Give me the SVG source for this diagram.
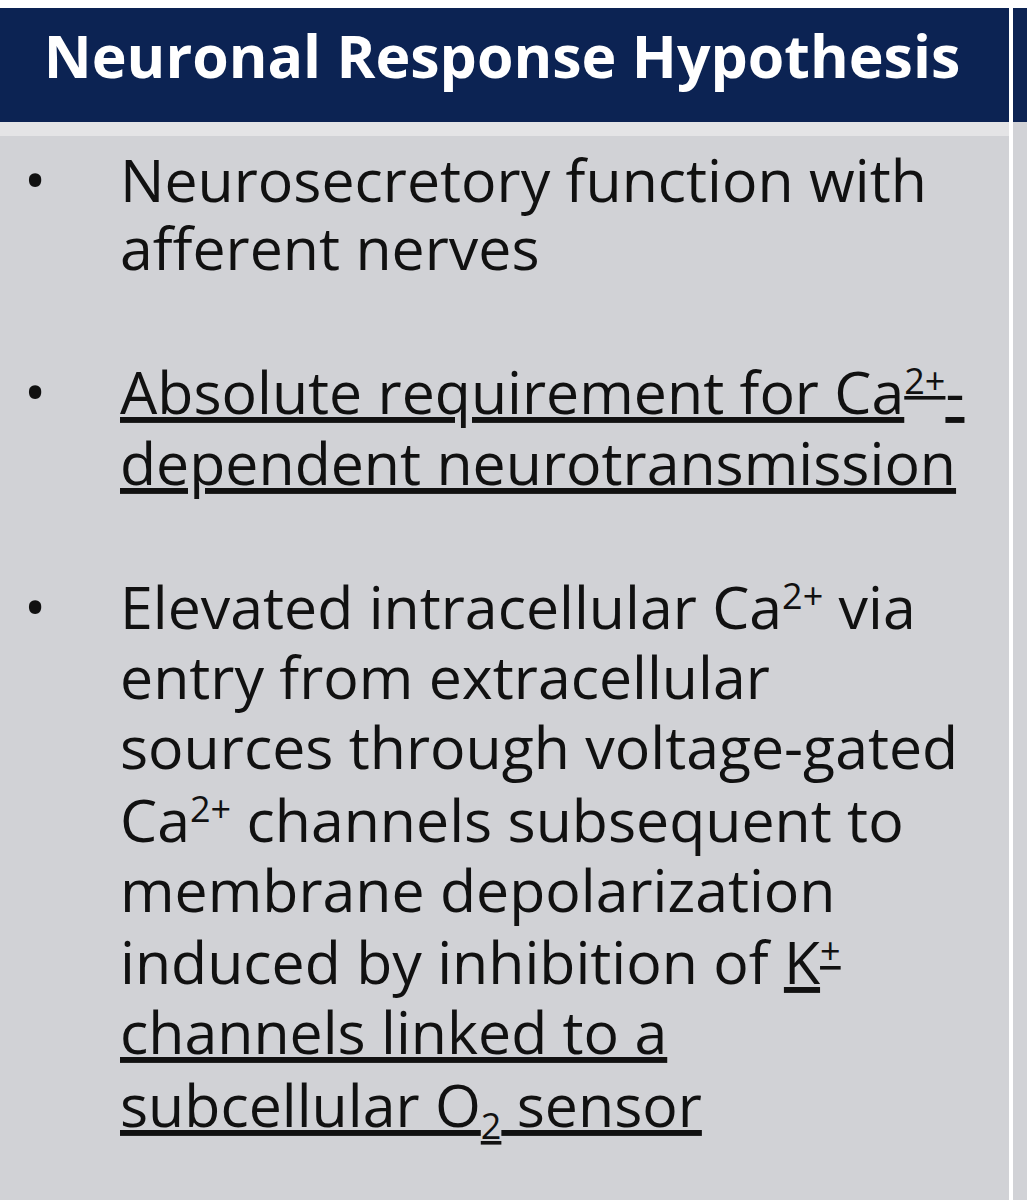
<svg xmlns="http://www.w3.org/2000/svg" width="1027" height="1200" viewBox="0 0 1027 1200">
<style>
.h{font-family:"Open Sans","Noto Sans",sans-serif;font-weight:bold;font-size:59px;fill:#fff}
.b{font-family:"Open Sans","Noto Sans",sans-serif;font-size:59px;fill:#111}
.u{text-decoration:underline}
.s{font-size:36px}
</style>
<rect x="0" y="0" width="1027" height="1200" fill="#ffffff"/>
<g id="header">
<rect x="0" y="8" width="1009" height="114" fill="#0c2353"/>
<rect x="1013" y="8" width="14" height="114" fill="#0c2353"/>
<text class="h" x="502" y="78" text-anchor="middle">Neuronal Response Hypothesis</text>
</g>
<g id="body">
<rect x="0" y="122" width="1009" height="14" fill="#e4e4e6"/>
<rect x="0" y="136" width="1009" height="1064" fill="#d1d2d6"/>
<rect x="1013" y="122" width="14" height="1078" fill="#d1d2d6"/>
<text class="b" x="24" y="202">•</text>
<text class="b" x="120" y="202">Neurosecretory function with</text>
<text class="b" x="120" y="270">afferent nerves</text>
<text class="b" x="24" y="414">•</text>
<text class="b u" x="120" y="414">Absolute requirement for Ca<tspan class="s" dy="-20">2+</tspan><tspan dy="20">-</tspan></text>
<text class="b u" x="120" y="485">dependent neurotransmission</text>
<text class="b" x="24" y="629">•</text>
<text class="b" x="120" y="629">Elevated intracellular Ca<tspan class="s" dy="-20">2+</tspan><tspan dy="20"> via</tspan></text>
<text class="b" x="120" y="699">entry from extracellular</text>
<text class="b" x="120" y="769">sources through voltage-gated</text>
<text class="b" x="120" y="842">Ca<tspan class="s" dy="-20">2+</tspan><tspan dy="20"> channels subsequent to</tspan></text>
<text class="b" x="120" y="912">membrane depolarization</text>
<text class="b" x="120" y="984">induced by inhibition of <tspan class="u">K<tspan class="s" dy="-20">+</tspan></tspan></text>
<text class="b u" x="120" y="1054">channels linked to a</text>
<text class="b u" x="120" y="1127">subcellular O<tspan class="s" dy="12">2</tspan><tspan dy="-12"> sensor</tspan></text>
</g>
</svg>
